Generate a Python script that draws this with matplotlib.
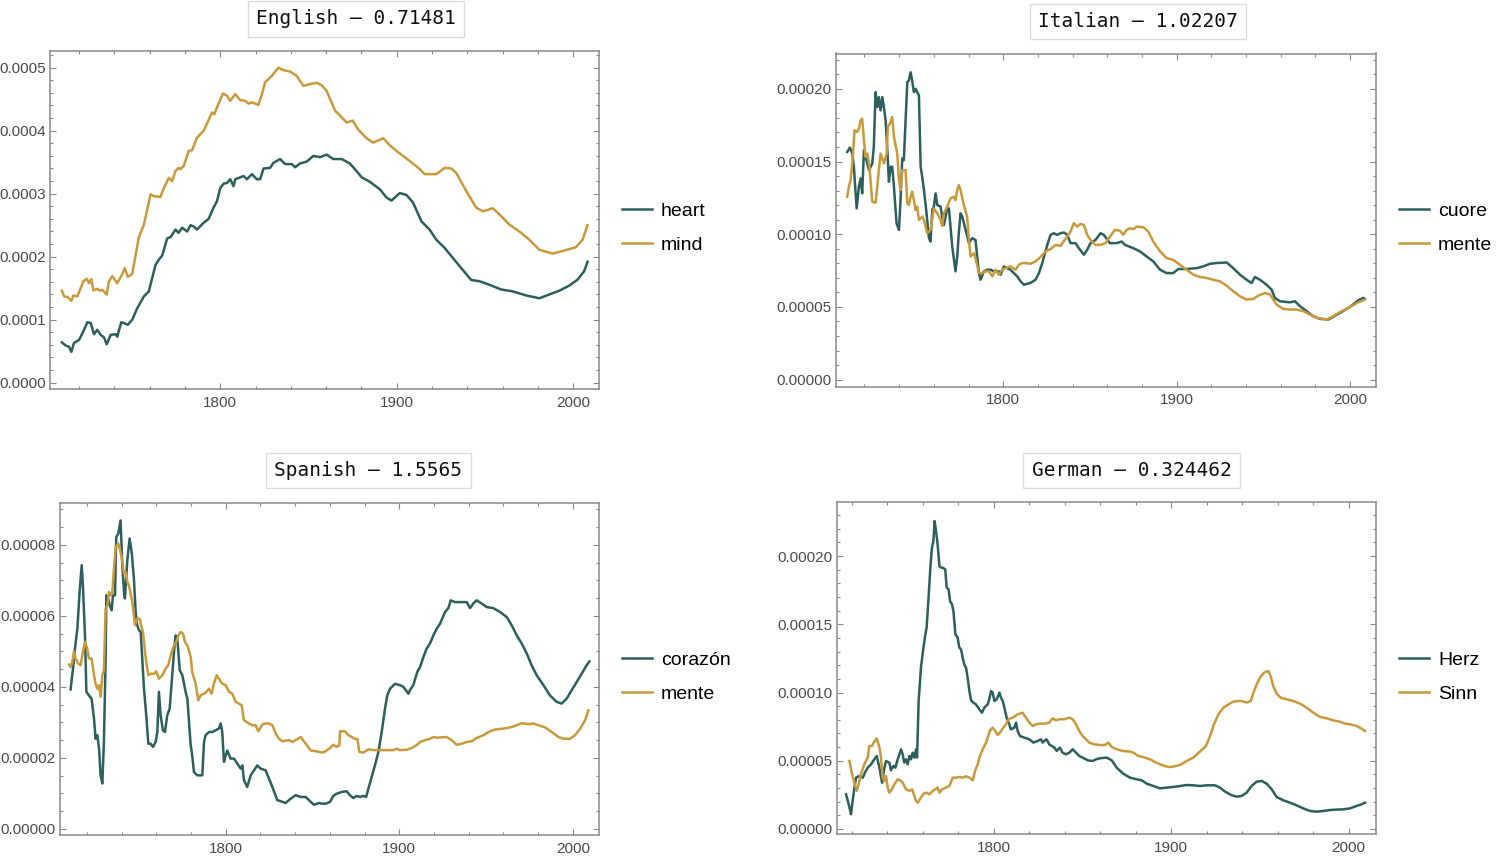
import matplotlib
matplotlib.use("Agg")
import matplotlib.pyplot as plt
from matplotlib.ticker import MultipleLocator, FormatStrFormatter

# ---------------- data (year, value in units of SCALE) ----------------
EN_SCALE = 1e-4
EN_HEART = [(1710.2,0.64),(1712.4,0.59),(1714.3,0.57),(1715.6,0.49),(1717.1,0.63),(1720.0,0.68),(1722.8,0.84),
            (1724.7,0.96),(1726.6,0.945),(1728.4,0.77),(1730.3,0.84),(1732.2,0.76),(1734.1,0.72),(1735.6,0.61),
            (1737.9,0.76),(1740.7,0.77),(1741.6,0.73),(1743.9,0.96),(1745.4,0.945),(1747.6,0.92),(1750.1,1.00),
            (1752.9,1.18),(1756.7,1.37),(1759.5,1.45),(1761.4,1.66),(1763.3,1.87),(1765.1,1.95),(1767.1,2.02),
            (1769.9,2.29),(1771.8,2.31),(1774.6,2.43),(1776.4,2.38),(1778.4,2.46),(1781.2,2.40),(1783.1,2.50),
            (1784.9,2.48),(1786.8,2.43),(1790.6,2.54),(1793.4,2.60),(1796.2,2.78),(1798.1,2.88),(1800.0,3.09),
            (1801.9,3.16),(1803.8,3.17),(1805.6,3.23),(1807.5,3.12),(1808.5,3.23),(1811.3,3.26),(1813.2,3.28),
            (1815.1,3.23),(1817.9,3.31),(1820.7,3.23),(1822.6,3.23),(1824.5,3.40),(1828.2,3.41),(1830.1,3.49),
            (1833.9,3.55),(1836.7,3.47),(1840.5,3.47),(1842.4,3.42),(1845.2,3.48),(1849.0,3.51),(1852.7,3.60),
            (1856.5,3.58),(1860.3,3.62),(1864.0,3.55),(1868.8,3.55),(1873.4,3.48),(1877.2,3.36),(1880.1,3.26),
            (1884.7,3.19),(1890.4,3.07),(1894.2,2.94),(1897.0,2.89),(1898.9,2.94),(1901.7,3.01),(1905.5,2.98),
            (1909.2,2.86),(1914.0,2.56),(1918.6,2.43),(1922.4,2.27),(1927.1,2.14),(1931.8,1.98),(1936.5,1.82),
            (1942.2,1.63),(1946.9,1.61),(1952.5,1.555),(1959.1,1.48),(1965.7,1.45),(1973.3,1.385),(1980.8,1.34),
            (1986.4,1.40),(1992.1,1.46),(1997.7,1.54),(2002.4,1.635),(2006.2,1.77),(2008.1,1.92)]
EN_MIND = [(1710.2,1.46),(1711.5,1.37),(1713.4,1.36),(1715.6,1.30),(1716.8,1.385),(1719.0,1.37),(1722.4,1.61),
           (1724.3,1.65),(1725.6,1.58),(1726.9,1.645),(1728.1,1.465),(1730.3,1.49),(1731.8,1.46),(1733.2,1.475),
           (1735.6,1.40),(1736.9,1.61),(1738.8,1.69),(1741.6,1.58),(1744.5,1.725),(1745.8,1.82),(1747.6,1.68),
           (1750.1,1.725),(1751.0,1.87),(1753.8,2.30),(1756.7,2.51),(1760.5,2.99),(1762.3,2.96),(1766.1,2.95),
           (1768.0,3.09),(1770.8,3.25),(1772.7,3.20),(1774.6,3.36),(1776.4,3.41),(1777.4,3.39),(1779.3,3.44),
           (1782.1,3.68),(1784.0,3.69),(1786.8,3.89),(1790.6,4.00),(1795.3,4.29),(1796.6,4.26),(1798.1,4.37),
           (1801.5,4.59),(1803.8,4.555),(1805.6,4.475),(1808.5,4.58),(1811.3,4.485),(1814.1,4.475),(1816.0,4.43),
           (1817.9,4.45),(1821.6,4.41),(1823.6,4.58),(1825.4,4.77),(1829.2,4.87),(1832.9,5.00),(1835.8,4.96),
           (1839.5,4.94),(1843.3,4.87),(1847.1,4.71),(1850.8,4.74),(1854.6,4.76),(1857.5,4.72),(1860.3,4.63),
           (1865.0,4.32),(1867.8,4.24),(1871.6,4.13),(1875.0,4.16),(1878.1,4.02),(1882.9,3.88),(1886.6,3.81),
           (1892.3,3.88),(1896.0,3.77),(1899.8,3.68),(1907.3,3.52),(1913.0,3.39),(1915.8,3.31),(1922.4,3.31),
           (1927.1,3.41),(1930.9,3.40),(1933.7,3.33),(1939.4,3.04),(1945.0,2.78),(1948.8,2.72),(1954.4,2.77),
           (1958.2,2.67),(1963.8,2.51),(1969.5,2.40),(1975.1,2.27),(1980.8,2.11),(1988.3,2.05),(1994.0,2.09),
           (2001.5,2.15),(2005.3,2.27),(2008.1,2.50)]

IT_SCALE = 1e-5
IT_CUORE = [(1710.1,15.66),(1711.6,15.96),(1713.0,15.55),(1713.9,14.64),(1715.5,11.78),(1716.8,13.27),(1717.8,13.84),
            (1718.7,12.81),(1719.7,15.78),(1721.6,14.87),(1722.6,14.41),(1724.5,14.87),(1725.4,16.01),(1726.4,19.77),
            (1727.4,18.75),(1728.3,19.43),(1729.3,18.52),(1730.3,19.43),(1731.2,18.75),(1732.2,17.83),(1733.1,16.01),
            (1734.1,13.61),(1735.1,14.64),(1736.0,14.64),(1737.0,13.27),(1738.5,10.76),(1739.9,10.30),(1740.8,12.35),
            (1741.8,15.21),(1742.7,15.09),(1743.7,17.83),(1744.7,20.46),(1745.6,20.57),(1746.6,21.14),(1747.5,20.57),
            (1748.5,19.77),(1749.5,20.00),(1751.4,19.55),(1752.4,14.64),(1753.3,13.95),(1754.3,13.04),(1755.8,11.44),
            (1757.2,9.73),(1758.1,9.50),(1759.1,11.67),(1760.0,11.90),(1761.0,12.81),(1762.0,12.01),(1763.9,11.90),
            (1764.8,11.21),(1765.8,10.64),(1766.8,11.21),(1767.7,11.78),(1768.7,11.78),(1769.6,10.53),(1770.6,9.16),
            (1771.6,8.24),(1772.5,7.45),(1773.5,8.47),(1774.4,10.07),(1775.4,11.44),(1776.4,11.21),(1778.3,10.30),
            (1780.2,9.39),(1782.1,9.73),(1784.0,9.61),(1785.0,8.47),(1786.0,7.33),(1786.9,6.87),(1788.9,7.45),
            (1790.8,7.56),(1792.7,7.56),(1794.6,7.45),(1797.5,7.45),(1798.5,7.22),(1800.4,7.79),(1802.3,7.67),
            (1804.2,7.56),(1806.1,7.33),(1808.1,7.10),(1810.0,6.76),(1811.9,6.53),(1815.7,6.65),(1818.6,6.87),
            (1820.6,7.33),(1822.5,8.02),(1825.4,9.27),(1827.3,9.96),(1829.2,10.07),(1831.1,9.96),(1833.0,10.07),
            (1835.0,10.12),(1836.9,9.96),(1838.8,9.39),(1841.7,9.39),(1843.6,9.04),(1846.5,8.59),(1848.4,8.93),
            (1850.3,9.39),(1853.2,9.61),(1856.1,10.07),(1858.0,9.96),(1861.5,9.39),(1865.4,9.39),(1868.3,9.50),
            (1870.2,9.27),(1875.0,9.04),(1878.8,8.82),(1882.7,8.47),(1886.5,8.13),(1890.4,7.56),(1894.2,7.33),
            (1898.0,7.33),(1900.9,7.61),(1905.7,7.61),(1911.5,7.67),(1915.3,7.79),(1919.2,7.97),(1923.0,8.02),
            (1928.8,8.06),(1932.6,7.67),(1936.5,7.22),(1940.3,6.87),(1943.2,6.65),(1945.1,7.06),(1948.0,6.87),
            (1951.8,6.53),(1954.7,6.19),(1956.6,5.62),(1959.5,5.39),(1965.3,5.32),(1968.2,5.39),(1971.1,5.05),
            (1974.9,4.71),(1978.7,4.36),(1982.6,4.18),(1987.4,4.14),(1990.3,4.32),(1994.1,4.59),(1999.9,5.00),
            (2004.7,5.46),(2007.6,5.62),(2008.5,5.55)]
IT_MENTE = [(1710.1,12.58),(1711.0,13.27),(1712.0,13.72),(1713.0,14.87),(1713.9,16.46),(1714.3,17.15),(1715.8,17.03),
            (1716.8,17.26),(1717.8,17.83),(1718.7,17.95),(1719.7,16.46),(1720.6,15.32),(1721.6,15.55),(1722.6,14.87),
            (1723.5,13.72),(1724.5,12.24),(1726.4,12.17),(1727.4,13.27),(1728.3,14.41),(1729.3,15.55),(1731.2,14.87),
            (1732.8,15.55),(1733.5,17.38),(1734.7,17.61),(1736.0,18.06),(1737.0,16.69),(1738.9,15.55),(1739.9,13.72),
            (1740.8,13.04),(1741.8,14.41),(1743.7,14.41),(1744.7,12.13),(1745.6,12.01),(1746.6,12.58),(1747.5,12.93),
            (1748.5,12.35),(1749.5,11.67),(1750.4,11.90),(1751.4,10.98),(1753.3,11.21),(1754.3,10.98),(1756.2,10.07),
            (1758.1,10.30),(1760.0,11.78),(1762.0,11.44),(1763.9,10.98),(1764.8,10.57),(1765.8,11.44),(1767.7,11.90),
            (1769.6,12.47),(1771.6,12.58),(1772.5,12.35),(1773.5,13.04),(1774.4,13.38),(1775.4,13.04),(1777.3,12.01),
            (1779.2,11.21),(1780.2,9.61),(1781.2,8.47),(1783.1,8.70),(1784.0,8.36),(1786.0,7.33),(1787.9,7.33),
            (1789.8,7.45),(1791.7,7.45),(1793.7,7.10),(1795.6,7.56),(1797.5,7.22),(1799.4,7.56),(1801.3,7.67),
            (1804.2,7.79),(1807.1,7.56),(1809.0,7.90),(1811.0,8.02),(1812.9,8.02),(1815.7,7.97),(1818.6,8.13),
            (1821.5,8.43),(1824.4,8.82),(1827.3,8.98),(1830.2,9.27),(1833.0,9.20),(1836.9,9.84),(1838.8,10.19),
            (1840.7,10.76),(1842.6,10.53),(1844.6,10.71),(1846.5,10.64),(1848.4,9.96),(1850.3,9.61),(1853.2,9.27),
            (1856.1,9.27),(1859.0,9.39),(1861.5,9.84),(1864.4,10.30),(1867.3,10.25),(1869.2,9.96),(1871.1,10.30),
            (1873.1,10.41),(1875.0,10.35),(1876.9,10.53),(1880.8,10.48),(1883.6,10.19),(1886.5,9.50),(1890.4,8.82),
            (1894.2,8.36),(1898.0,8.24),(1901.9,7.90),(1905.7,7.56),(1909.6,7.22),(1913.4,7.06),(1917.3,6.99),
            (1921.1,6.87),(1924.9,6.76),(1928.8,6.46),(1932.6,6.08),(1936.5,5.73),(1940.3,5.51),(1944.2,5.55),
            (1947.0,5.78),(1950.9,5.96),(1953.8,5.85),(1957.6,5.16),(1961.4,4.87),(1965.3,4.82),(1969.1,4.82),
            (1973.0,4.71),(1976.8,4.48),(1980.7,4.25),(1986.4,4.14),(1990.3,4.36),(1994.1,4.64),(1999.9,5.00),
            (2004.7,5.32),(2008.5,5.51)]

ES_SCALE = 1e-5
ES_CORAZON = [(1710.6,3.93),(1712.0,4.52),(1713.1,5.08),(1714.5,5.64),(1715.8,6.68),(1717.0,7.43),(1717.7,6.86),
              (1718.9,5.45),(1719.7,3.86),(1721.2,3.76),(1722.7,3.67),(1724.1,3.11),(1725.0,2.54),(1726.0,2.64),
              (1727.0,2.26),(1727.9,1.51),(1728.9,1.28),(1729.8,2.45),(1730.8,4.80),(1731.2,6.58),(1732.3,6.49),
              (1733.1,6.30),(1734.3,6.16),(1735.0,6.58),(1736.2,6.58),(1736.9,8.22),(1738.1,8.32),(1739.4,8.69),
              (1740.4,7.43),(1741.4,6.68),(1741.9,6.49),(1743.3,7.57),(1744.6,8.18),(1745.8,7.80),(1747.1,7.05),
              (1748.1,6.11),(1749.0,5.74),(1750.0,5.60),(1751.0,5.55),(1752.9,3.95),(1754.2,3.20),(1755.4,2.40),
              (1756.7,2.40),(1758.1,2.31),(1759.6,2.45),(1760.6,2.73),(1761.5,3.86),(1762.5,3.20),(1763.8,2.78),
              (1765.0,2.73),(1766.3,3.20),(1767.7,3.39),(1769.2,4.33),(1770.2,4.99),(1771.1,5.45),(1772.1,5.36),
              (1773.5,4.47),(1775.0,4.33),(1776.9,3.86),(1777.9,3.67),(1779.8,2.36),(1780.7,2.07),(1781.7,1.60),
              (1783.6,1.51),(1786.5,1.51),(1787.5,2.45),(1788.4,2.64),(1790.4,2.73),(1792.3,2.73),(1794.2,2.78),
              (1796.1,2.83),(1797.1,2.97),(1798.0,2.73),(1799.0,1.89),(1800.0,2.07),(1800.9,2.21),(1802.8,1.98),
              (1804.8,1.98),(1806.7,1.84),(1808.6,1.70),(1809.6,1.79),(1810.5,1.37),(1812.4,1.18),(1814.4,1.51),
              (1816.3,1.65),(1818.2,1.79),(1820.1,1.70),(1823.0,1.65),(1824.9,1.42),(1826.9,1.18),(1829.7,0.81),
              (1831.7,0.78),(1834.5,0.73),(1837.4,0.85),(1840.3,0.95),(1843.2,0.90),(1846.1,0.90),(1849.0,0.76),
              (1850.9,0.68),(1853.8,0.73),(1855.7,0.71),(1857.6,0.71),(1860.1,0.76),(1862.0,0.93),(1863.9,0.99),
              (1866.8,1.04),(1869.7,1.06),(1871.6,0.95),(1873.5,0.87),(1875.5,0.93),(1877.4,0.90),(1879.3,0.93),
              (1880.9,0.90),(1882.2,1.13),(1884.1,1.46),(1886.0,1.79),(1888.0,2.17),(1889.9,2.73),(1891.8,3.39),
              (1893.1,3.76),(1894.7,3.95),(1897.6,4.09),(1900.4,4.05),(1902.4,4.00),(1905.3,3.81),(1906.2,3.91),
              (1908.1,4.05),(1910.4,4.42),(1912.0,4.56),(1913.9,4.84),(1915.8,5.08),(1917.7,5.22),(1919.7,5.455),
              (1921.6,5.64),(1923.5,5.78),(1926.4,6.11),(1928.3,6.22),(1929.7,6.44),(1932.1,6.39),(1935.0,6.39),
              (1938.9,6.39),(1940.8,6.22),(1942.7,6.35),(1944.6,6.44),(1947.5,6.35),(1950.4,6.25),(1954.2,6.22),
              (1958.1,6.11),(1961.9,5.97),(1964.8,5.74),(1967.7,5.455),(1970.6,5.22),(1973.5,4.94),(1976.3,4.61),
              (1979.2,4.33),(1983.1,4.05),(1986.9,3.76),(1990.7,3.58),(1993.6,3.53),(1996.5,3.67),(1999.4,3.91),
              (2002.3,4.14),(2005.1,4.37),(2008.0,4.61),(2009.6,4.72)]
ES_MENTE = [(1709.7,4.63),(1710.6,4.56),(1711.6,4.70),(1712.5,4.99),(1713.5,4.80),(1715.0,4.66),(1716.4,4.61),
            (1717.7,4.99),(1718.9,5.27),(1720.2,5.08),(1721.2,4.80),(1722.7,4.80),(1724.1,4.33),(1725.0,4.09),
            (1726.0,3.95),(1727.0,4.05),(1727.9,3.72),(1728.9,4.33),(1729.8,4.47),(1730.8,6.21),(1731.8,6.30),
            (1732.7,6.68),(1733.7,6.58),(1734.6,6.63),(1735.6,7.33),(1736.6,7.94),(1738.1,8.04),(1738.9,7.90),
            (1740.0,7.66),(1741.4,7.19),(1742.3,7.24),(1743.3,6.96),(1744.2,6.86),(1746.2,6.39),(1747.7,5.74),
            (1749.0,5.92),(1750.4,5.92),(1751.5,5.69),(1752.3,5.55),(1753.5,4.99),(1754.2,4.70),(1755.4,4.33),
            (1756.7,4.37),(1758.7,4.37),(1760.0,4.44),(1761.5,4.23),(1763.5,4.33),(1765.4,4.52),(1766.9,4.61),
            (1768.3,4.89),(1770.2,5.17),(1771.5,5.27),(1772.7,5.45),(1774.0,5.55),(1775.4,5.50),(1776.5,5.27),
            (1777.9,5.17),(1779.8,4.85),(1780.7,4.42),(1782.7,4.09),(1784.2,3.62),(1785.6,3.77),(1787.5,3.81),
            (1788.8,3.86),(1790.4,3.95),(1791.9,3.81),(1793.2,4.09),(1794.8,4.33),(1796.1,4.23),(1798.0,4.09),
            (1800.0,4.05),(1801.9,3.86),(1803.8,3.81),(1805.7,3.58),(1807.6,3.53),(1809.2,3.48),(1810.5,3.06),
            (1813.4,2.97),(1815.3,2.92),(1817.2,2.92),(1818.8,2.75),(1821.1,2.94),(1823.0,2.97),(1824.9,2.97),
            (1826.9,2.92),(1828.8,2.69),(1830.7,2.54),(1832.6,2.47),(1836.5,2.50),(1838.4,2.45),(1841.3,2.53),
            (1843.2,2.59),(1846.1,2.40),(1849.0,2.21),(1851.8,2.19),(1855.7,2.15),(1857.6,2.19),(1860.1,2.28),
            (1862.0,2.37),(1863.9,2.31),(1865.5,2.36),(1865.9,2.75),(1868.7,2.75),(1870.7,2.64),(1872.6,2.59),
            (1874.5,2.54),(1875.9,2.53),(1877.0,2.17),(1879.3,2.15),(1882.2,2.24),(1885.1,2.22),(1888.0,2.22),
            (1890.8,2.22),(1893.7,2.22),(1896.6,2.22),(1898.5,2.26),(1900.4,2.22),(1904.3,2.23),(1907.2,2.28),
            (1910.0,2.36),(1912.0,2.45),(1914.9,2.50),(1917.7,2.54),(1919.7,2.59),(1921.6,2.57),(1924.5,2.58),
            (1927.3,2.59),(1930.2,2.50),(1933.1,2.37),(1936.0,2.40),(1938.9,2.45),(1941.8,2.47),(1944.6,2.56),
            (1948.5,2.64),(1952.3,2.75),(1955.2,2.80),(1959.0,2.82),(1961.9,2.84),(1964.8,2.87),(1967.7,2.92),
            (1970.6,2.98),(1974.4,2.95),(1977.3,2.97),(1980.2,2.92),(1984.0,2.86),(1987.9,2.73),(1991.7,2.59),
            (1994.6,2.54),(1998.4,2.54),(2001.3,2.64),(2004.2,2.82),(2007.1,3.06),(2009.0,3.34)]

DE_SCALE = 1e-5
DE_HERZ = [(1716.8,2.54),(1718.3,1.81),(1719.6,1.08),(1720.5,2.05),(1721.5,3.03),(1722.4,3.76),(1724.3,3.88),
           (1726.2,3.76),(1727.7,4.20),(1729.0,4.49),(1730.9,4.74),(1732.7,5.10),(1734.1,5.35),(1735.6,4.49),
           (1737.1,3.39),(1738.4,4.49),(1739.3,4.98),(1741.2,4.86),(1742.1,4.30),(1743.5,4.62),(1744.6,4.49),
           (1745.9,5.10),(1747.8,5.84),(1748.7,5.47),(1749.6,4.86),(1750.6,5.10),(1751.5,4.74),(1752.5,5.35),
           (1753.4,5.10),(1754.3,5.59),(1755.3,5.23),(1756.2,5.84),(1756.8,5.23),(1757.7,9.38),(1759.0,11.82),
           (1760.4,13.29),(1761.5,14.26),(1762.2,14.75),(1763.4,17.19),(1764.3,19.15),(1765.2,20.61),(1766.0,21.10),
           (1766.7,22.56),(1767.5,21.83),(1768.4,20.86),(1769.4,19.27),(1770.3,19.15),(1771.2,19.15),(1772.7,19.02),
           (1773.5,17.68),(1774.6,17.56),(1775.4,16.70),(1776.5,16.46),(1777.3,15.97),(1778.4,14.26),(1779.7,14.02),
           (1780.6,13.29),(1781.6,13.16),(1782.5,12.55),(1783.4,12.06),(1784.4,11.82),(1785.3,11.09),(1786.3,10.11),
           (1787.2,9.43),(1788.5,9.26),(1790.0,9.13),(1791.9,8.77),(1793.4,8.52),(1794.7,8.89),(1796.6,9.13),
           (1797.5,9.50),(1798.5,10.11),(1799.4,9.99),(1800.4,9.38),(1801.7,9.50),(1803.2,9.99),(1804.1,9.62),
           (1805.1,9.38),(1806.0,8.89),(1807.3,8.16),(1808.8,7.67),(1809.7,7.30),(1811.6,7.42),(1812.6,7.79),
           (1813.5,7.18),(1814.8,6.81),(1817.3,6.69),(1820.1,6.57),(1822.3,6.33),(1824.8,6.45),(1826.6,6.57),
           (1827.6,6.33),(1828.5,6.45),(1829.8,6.57),(1831.3,6.20),(1832.8,6.08),(1834.2,5.96),(1835.5,5.72),
           (1837.3,5.96),(1838.8,5.59),(1840.7,5.47),(1842.6,5.59),(1844.5,5.84),(1846.4,5.59),(1848.2,5.35),
           (1850.1,5.23),(1853.0,5.03),(1855.8,4.98),(1857.6,5.10),(1859.9,5.18),(1863.6,5.23),(1866.5,5.03),
           (1869.3,4.49),(1873.0,4.05),(1876.8,3.76),(1880.5,3.64),(1883.4,3.57),(1886.2,3.32),(1889.9,3.15),
           (1893.7,2.98),(1897.4,3.03),(1901.2,3.08),(1905.0,3.15),(1908.7,3.22),(1912.5,3.20),(1916.2,3.15),
           (1920.0,3.20),(1924.7,3.20),(1927.5,3.03),(1930.3,2.74),(1934.1,2.47),(1936.9,2.37),(1939.7,2.42),
           (1942.5,2.66),(1945.3,3.15),(1948.2,3.47),(1951.0,3.52),(1953.8,3.32),(1956.6,2.91),(1959.4,2.35),
           (1963.2,2.10),(1966.9,1.93),(1970.7,1.73),(1974.4,1.51),(1978.2,1.32),(1982.0,1.27),(1985.7,1.32),
           (1989.5,1.39),(1993.2,1.42),(1997.0,1.44),(2000.7,1.51),(2004.5,1.69),(2007.3,1.81),(2009.2,1.93)]
DE_SINN = [(1718.7,4.98),(1720.2,4.01),(1721.5,3.39),(1722.8,2.78),(1723.9,3.27),(1725.2,4.01),(1727.1,4.74),
           (1729.0,5.23),(1729.9,6.08),(1731.4,6.08),(1732.7,6.40),(1734.1,6.64),(1735.6,5.96),(1736.5,5.23),
           (1737.4,3.76),(1738.4,3.52),(1739.3,3.88),(1740.3,3.03),(1741.2,2.66),(1742.7,2.91),(1744.0,3.27),
           (1745.9,3.64),(1747.8,3.52),(1748.7,3.39),(1750.6,2.91),(1752.5,2.78),(1754.0,2.91),(1755.3,2.42),
           (1756.2,2.05),(1757.2,1.93),(1759.0,2.30),(1760.4,2.59),(1762.2,2.66),(1763.7,2.54),(1765.6,2.78),
           (1767.1,2.91),(1768.4,3.03),(1769.4,2.66),(1770.9,2.91),(1773.1,3.03),(1775.0,3.15),(1776.9,3.76),
           (1778.8,3.76),(1780.6,3.81),(1782.5,3.76),(1784.4,3.86),(1786.3,3.76),(1788.2,3.57),(1789.6,4.30),
           (1791.0,4.74),(1791.9,5.23),(1793.8,5.84),(1795.7,6.33),(1797.9,7.23),(1799.4,7.42),(1800.9,7.18),
           (1802.2,6.89),(1803.5,7.06),(1805.1,7.38),(1806.9,7.67),(1808.4,8.04),(1810.7,8.16),(1813.5,8.40),
           (1816.3,8.52),(1818.2,8.16),(1820.1,7.79),(1822.0,7.55),(1823.8,7.67),(1826.1,7.72),(1828.5,7.72),
           (1831.3,7.79),(1833.2,8.11),(1835.1,7.96),(1837.0,8.04),(1839.8,8.04),(1842.6,8.16),(1844.5,8.04),
           (1846.4,7.67),(1848.2,7.18),(1850.1,6.81),(1853.9,6.33),(1856.7,6.20),(1859.9,6.15),(1862.7,6.15),
           (1864.6,6.33),(1866.5,6.01),(1869.3,5.84),(1873.0,5.71),(1876.8,5.67),(1878.7,5.59),(1881.5,5.35),
           (1885.2,5.23),(1888.1,5.10),(1890.9,4.91),(1894.6,4.69),(1898.4,4.54),(1901.2,4.57),(1905.0,4.69),
           (1908.7,4.98),(1912.5,5.23),(1916.2,5.67),(1919.6,6.08),(1921.9,6.81),(1924.1,7.67),(1926.6,8.40),
           (1929.4,8.89),(1932.2,9.13),(1935.0,9.33),(1937.8,9.38),(1939.7,9.38),(1942.5,9.26),(1944.8,9.38),
           (1946.7,10.11),(1948.2,10.60),(1950.0,11.09),(1952.3,11.45),(1954.7,11.58),(1956.0,11.21),(1957.5,10.48),
           (1959.4,9.92),(1961.7,9.62),(1965.1,9.50),(1968.8,9.38),(1972.6,9.18),(1976.3,8.89),(1980.1,8.52),
           (1983.8,8.21),(1987.6,8.11),(1991.3,7.96),(1995.1,7.86),(1997.9,7.72),(2000.7,7.67),(2004.5,7.55),
           (2007.3,7.35),(2009.2,7.18)]

TITLES = ["English \u2013 0.71481", "Italian \u2013 1.02207", "Spanish \u2013 1.5565", "German \u2013 0.324462"]
LABELS = [("heart", "mind"), ("cuore", "mente"), ("coraz\u00f3n", "mente"), ("Herz", "Sinn")]
SERIES = [(EN_HEART, EN_MIND), (IT_CUORE, IT_MENTE), (ES_CORAZON, ES_MENTE), (DE_HERZ, DE_SINN)]
SCALES = [EN_SCALE, IT_SCALE, ES_SCALE, DE_SCALE]

# ---------------- layout (pixels of a 1500x860 canvas) ----------------
W, H = 1500, 860
TEAL = "#2d5f5c"
GOLD = "#c99a3c"
FRAME = "#8a8a8a"
TICKLBL = "#4a4a4a"

PANELS = [
    dict(box=(50, 51, 599, 389), xlim=(1703.5, 2014.6), ylim=(-1.0e-5, 5.265e-4),
         ymaj=1e-4, ymin=2e-5, fmt="%.4f", title_xy=(356, 19), leg_xy=(622, 228)),
    dict(box=(836, 53.5, 1376, 386.5), xlim=(1703.6, 2014.9), ylim=(-0.47e-5, 22.43e-5),
         ymaj=5e-5, ymin=1e-5, fmt="%.5f", title_xy=(1138, 21.5), leg_xy=(1399, 228)),
    dict(box=(60, 502.7, 599.3, 835.3), xlim=(1704.5, 2015.3), ylim=(-0.18e-5, 9.19e-5),
         ymaj=2e-5, ymin=0.5e-5, fmt="%.5f", title_xy=(368.5, 470.5), leg_xy=(622, 677)),
    dict(box=(837, 502, 1376, 834.3), xlim=(1711.7, 2015.4), ylim=(-0.39e-5, 23.96e-5),
         ymaj=5e-5, ymin=1e-5, fmt="%.5f", title_xy=(1131.5, 470.5), leg_xy=(1399, 677)),
]

fig = plt.figure(figsize=(W / 100, H / 100), dpi=100)
fig.patch.set_facecolor("white")

for title, labels, series, scale, p in zip(TITLES, LABELS, SERIES, SCALES, PANELS):
    x0, y0, x1, y1 = p["box"]
    ax = fig.add_axes([x0 / W, 1 - y1 / H, (x1 - x0) / W, (y1 - y0) / H])
    handles = []
    for data, color, lab in zip(series, (TEAL, GOLD), labels):
        xs = [d[0] for d in data]
        ys = [d[1] * scale for d in data]
        ln, = ax.plot(xs, ys, color=color, lw=1.8, label=lab, solid_joinstyle="round")
        handles.append(ln)
    ax.set_xlim(*p["xlim"])
    ax.set_ylim(*p["ylim"])
    ax.xaxis.set_major_locator(MultipleLocator(100))
    ax.xaxis.set_minor_locator(MultipleLocator(20))
    ax.yaxis.set_major_locator(MultipleLocator(p["ymaj"]))
    ax.yaxis.set_minor_locator(MultipleLocator(p["ymin"]))
    ax.yaxis.set_major_formatter(FormatStrFormatter(p["fmt"]))
    ax.tick_params(which="both", direction="in", top=True, right=True, colors=FRAME,
                   labelcolor=TICKLBL, labelsize=11, width=0.8)
    ax.tick_params(which="major", length=4.5)
    ax.tick_params(which="minor", length=2.5)
    ax.tick_params(axis="y", pad=3)
    ax.tick_params(axis="x", pad=5)
    for lbl in ax.get_xticklabels() + ax.get_yticklabels():
        lbl.set_family("Liberation Sans")
    for sp in ax.spines.values():
        sp.set_color(FRAME)
        sp.set_linewidth(1.1)

    lx, ly = p["leg_xy"]
    ax.legend(handles=handles, loc="center left", bbox_to_anchor=(lx / W, 1 - ly / H),
              bbox_transform=fig.transFigure, frameon=False, borderpad=0, borderaxespad=0,
              handlelength=1.55, handletextpad=0.45, labelspacing=0.85,
              prop={"family": "Liberation Sans", "size": 14})

    tx, ty = p["title_xy"]
    fig.text(tx / W, 1 - ty / H, title, ha="center", va="center", family="DejaVu Sans Mono",
             fontsize=14, color="#111111",
             bbox=dict(boxstyle="square,pad=0.42", facecolor="white", edgecolor="#dddddd", linewidth=1.0))

fig.savefig("out.png", dpi=100, facecolor="white")
